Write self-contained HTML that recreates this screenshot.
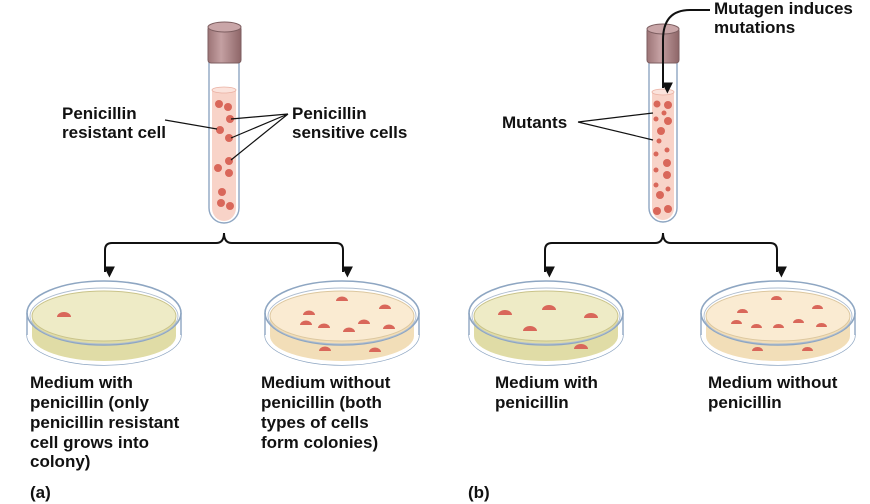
<!DOCTYPE html>
<html><head><meta charset="utf-8"><style>
body{margin:0;background:#fff;}
svg{display:block;}
text{font-family:"Liberation Sans",sans-serif;font-weight:bold;font-size:17px;fill:#111;}
</style></head><body>
<svg width="870" height="504" viewBox="0 0 870 504" xmlns="http://www.w3.org/2000/svg">
<defs>
<marker id="ah" viewBox="0 0 10 10" refX="5" refY="9" markerWidth="11" markerHeight="11" orient="auto-start-reverse" markerUnits="userSpaceOnUse"><path d="M0,0 L10,5 L0,10 z" fill="#111"/></marker>
<linearGradient id="cap" x1="0" x2="1"><stop offset="0" stop-color="#9c7476"/><stop offset="0.4" stop-color="#c4a0a2"/><stop offset="1" stop-color="#8e6668"/></linearGradient>
<g id="dishY">
  <ellipse cx="0" cy="335" rx="77" ry="30" fill="#fff" stroke="#8ea6c2" stroke-width="1.4"/>
  <path d="M-77,313 L-77,335 A77,30 0 0 0 77,335 L77,313 Z" fill="#fff" stroke="none"/>
  <path d="M-72,316 L-72,336 A72,25 0 0 0 72,336 L72,316 Z" fill="#e0dca6"/>
  <ellipse cx="0" cy="316" rx="72" ry="25" fill="#eeebc6" stroke="#c9c38a" stroke-width="1"/>
  <ellipse cx="0" cy="313" rx="77" ry="32" fill="none" stroke="#8ea6c2" stroke-width="1.6"/>
  <ellipse cx="0" cy="316" rx="74" ry="28" fill="none" stroke="#aebdd0" stroke-width="0.9"/>
  <path d="M-77,313 L-77,335 M77,313 L77,335" stroke="#8ea6c2" stroke-width="1.4"/>
</g>
<g id="dishB">
  <ellipse cx="0" cy="335" rx="77" ry="30" fill="#fff" stroke="#8ea6c2" stroke-width="1.4"/>
  <path d="M-77,313 L-77,335 A77,30 0 0 0 77,335 L77,313 Z" fill="#fff" stroke="none"/>
  <path d="M-72,316 L-72,336 A72,25 0 0 0 72,336 L72,316 Z" fill="#f2deb8"/>
  <ellipse cx="0" cy="316" rx="72" ry="25" fill="#faebd2" stroke="#dcc79f" stroke-width="1"/>
  <ellipse cx="0" cy="313" rx="77" ry="32" fill="none" stroke="#8ea6c2" stroke-width="1.6"/>
  <ellipse cx="0" cy="316" rx="74" ry="28" fill="none" stroke="#aebdd0" stroke-width="0.9"/>
  <path d="M-77,313 L-77,335 M77,313 L77,335" stroke="#8ea6c2" stroke-width="1.4"/>
</g>
</defs>

<!-- Left tube -->
<g>
  <path d="M209,58 L209,208 A15,15 0 0 0 239,208 L239,58" fill="#fff" stroke="#8ea6c2" stroke-width="1.4"/>
  <path d="M212,90 L212,208 A12,13 0 0 0 236,208 L236,90 Z" fill="#f8d3c8"/>
  <ellipse cx="224" cy="90" rx="12" ry="3" fill="#fbe3dc" stroke="#eab0a2" stroke-width="0.8"/>
  <rect x="208" y="26" width="33" height="37" rx="3" fill="url(#cap)" stroke="#7d5e60"/>
  <ellipse cx="224.5" cy="27" rx="16.5" ry="5" fill="#c9a6a8" stroke="#7d5e60"/>
  <g fill="#d9675a">
    <circle cx="219" cy="104" r="4"/><circle cx="228" cy="107" r="4"/>
    <circle cx="230" cy="119" r="4"/><circle cx="220" cy="130" r="4"/>
    <circle cx="229" cy="138" r="4"/><circle cx="229" cy="161" r="4"/>
    <circle cx="218" cy="168" r="4"/><circle cx="229" cy="173" r="4"/>
    <circle cx="222" cy="192" r="4"/><circle cx="221" cy="203" r="4"/>
    <circle cx="230" cy="206" r="4"/>
  </g>
</g>
<path d="M165,120 L217,129" stroke="#111" stroke-width="1.2"/>
<path d="M288,114 L231,119 M288,114 L231,138 M288,114 L231,160" stroke="#111" stroke-width="1.2" fill="none"/>
<text x="62" y="119">Penicillin</text>
<text x="62" y="138">resistant cell</text>
<text x="292" y="119">Penicillin</text>
<text x="292" y="138">sensitive cells</text>

<!-- Right tube -->
<g>
  <path d="M649,58 L649,208 A14,14 0 0 0 677,208 L677,58" fill="#fff" stroke="#8ea6c2" stroke-width="1.4"/>
  <path d="M652,92 L652,208 A11,12 0 0 0 674,208 L674,92 Z" fill="#f8d3c8"/>
  <ellipse cx="663" cy="92" rx="11" ry="3" fill="#fbe3dc" stroke="#eab0a2" stroke-width="0.8"/>
  <rect x="647" y="28" width="32" height="35" rx="3" fill="url(#cap)" stroke="#7d5e60"/>
  <ellipse cx="663" cy="29" rx="16" ry="5" fill="#c9a6a8" stroke="#7d5e60"/>
  <g fill="#d9675a">
    <circle cx="657" cy="104" r="3.5"/><circle cx="668" cy="105" r="4"/>
    <circle cx="664" cy="113" r="2.5"/><circle cx="656" cy="119" r="2.5"/>
    <circle cx="668" cy="121" r="4"/><circle cx="661" cy="131" r="4"/>
    <circle cx="659" cy="141" r="2.5"/><circle cx="667" cy="150" r="2.5"/>
    <circle cx="656" cy="154" r="2.5"/><circle cx="667" cy="163" r="4"/>
    <circle cx="656" cy="170" r="2.5"/><circle cx="667" cy="175" r="4"/>
    <circle cx="656" cy="185" r="2.5"/><circle cx="668" cy="189" r="2.5"/>
    <circle cx="660" cy="195" r="4"/><circle cx="657" cy="211" r="4"/>
    <circle cx="668" cy="209" r="4"/>
  </g>
</g>
<path d="M710,10 L690,10 Q663,10 663,40 L663,88" stroke="#111" stroke-width="2" fill="none" marker-end="url(#ah)"/>
<text x="714" y="14">Mutagen induces</text>
<text x="714" y="33">mutations</text>
<path d="M578,122 L653,113 M578,122 L653,140" stroke="#111" stroke-width="1.2" fill="none"/>
<text x="502" y="128">Mutants</text>

<!-- Brackets -->
<path d="M105,266 L105,250 Q105,243 112,243 L216,243 Q224,243 224,233 Q224,243 232,243 L336,243 Q343,243 343,250 L343,266" stroke="#111" stroke-width="2" fill="none"/>
<path d="M105,258 L105,272" stroke="#111" stroke-width="2" marker-end="url(#ah)"/>
<path d="M343,258 L343,272" stroke="#111" stroke-width="2" marker-end="url(#ah)"/>
<path d="M545,266 L545,250 Q545,243 552,243 L655,243 Q663,243 663,233 Q663,243 671,243 L770,243 Q777,243 777,250 L777,266" stroke="#111" stroke-width="2" fill="none"/>
<path d="M545,258 L545,272" stroke="#111" stroke-width="2" marker-end="url(#ah)"/>
<path d="M777,258 L777,272" stroke="#111" stroke-width="2" marker-end="url(#ah)"/>

<!-- Dishes -->
<use href="#dishY" transform="translate(104,0)"/>
<use href="#dishB" transform="translate(342,0)"/>
<use href="#dishY" transform="translate(546,0)"/>
<use href="#dishB" transform="translate(778,0)"/>

<g fill="#d9675a">
  <path d="M57,317 a7,5 0 0 1 14,0 z"/>
  <path d="M336,301 a6,4.5 0 0 1 12,0 z"/><path d="M303,315 a6,4.5 0 0 1 12,0 z"/>
  <path d="M379,309 a6,4.5 0 0 1 12,0 z"/><path d="M300,325 a6,4.5 0 0 1 12,0 z"/>
  <path d="M318,328 a6,4.5 0 0 1 12,0 z"/><path d="M358,324 a6,4.5 0 0 1 12,0 z"/>
  <path d="M343,332 a6,4.5 0 0 1 12,0 z"/><path d="M383,329 a6,4.5 0 0 1 12,0 z"/>
  <path d="M319,351 a6,4.5 0 0 1 12,0 z"/><path d="M369,352 a6,4.5 0 0 1 12,0 z"/>
  <path d="M498,315 a7,5 0 0 1 14,0 z"/><path d="M542,310 a7,5 0 0 1 14,0 z"/>
  <path d="M584,318 a7,5 0 0 1 14,0 z"/><path d="M523,331 a7,5 0 0 1 14,0 z"/>
  <path d="M574,349 a7,5 0 0 1 14,0 z"/>
  <path d="M771,300 a5.5,4 0 0 1 11,0 z"/><path d="M737,313 a5.5,4 0 0 1 11,0 z"/>
  <path d="M812,309 a5.5,4 0 0 1 11,0 z"/><path d="M731,324 a5.5,4 0 0 1 11,0 z"/>
  <path d="M751,328 a5.5,4 0 0 1 11,0 z"/><path d="M793,323 a5.5,4 0 0 1 11,0 z"/>
  <path d="M773,328 a5.5,4 0 0 1 11,0 z"/><path d="M816,327 a5.5,4 0 0 1 11,0 z"/>
  <path d="M752,351 a5.5,4 0 0 1 11,0 z"/><path d="M802,351 a5.5,4 0 0 1 11,0 z"/>
</g>

<!-- Labels -->
<text x="30" y="388">Medium with</text>
<text x="30" y="408">penicillin (only</text>
<text x="30" y="428">penicillin resistant</text>
<text x="30" y="448">cell grows into</text>
<text x="30" y="467">colony)</text>
<text x="261" y="388">Medium without</text>
<text x="261" y="408">penicillin (both</text>
<text x="261" y="428">types of cells</text>
<text x="261" y="448">form colonies)</text>
<text x="495" y="388">Medium with</text>
<text x="495" y="408">penicillin</text>
<text x="708" y="388">Medium without</text>
<text x="708" y="408">penicillin</text>
<text x="30" y="498">(a)</text>
<text x="468" y="498">(b)</text>
</svg>
</body></html>
